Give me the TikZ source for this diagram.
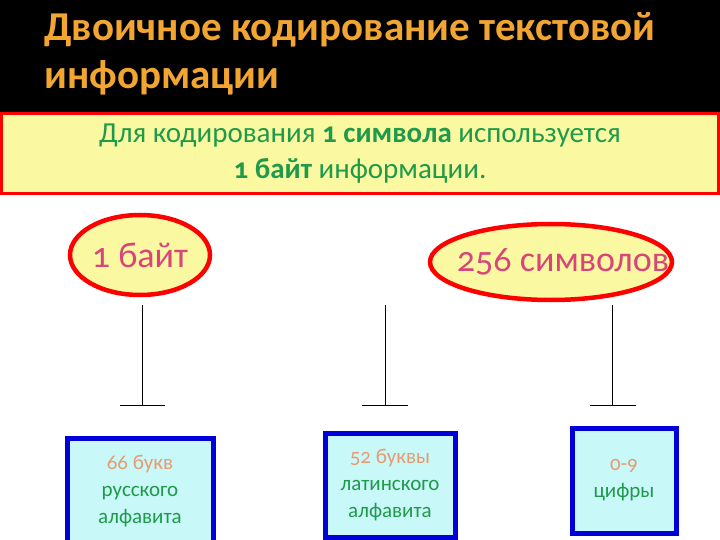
\documentclass[tikz,border=0pt]{standalone}
\usepackage{fontspec}
\setmainfont[Numbers=OldStyle]{Carlito}
\usetikzlibrary{shapes.geometric}
\definecolor{ttl}{HTML}{F2A530}
\definecolor{grn}{HTML}{1E9A4A}
\definecolor{pnk}{HTML}{D8457A}
\definecolor{slm}{HTML}{E89A70}
\definecolor{yel}{HTML}{FAF8A0}
\definecolor{cyn}{HTML}{C8F8F8}
\tikzset{
 ell/.style={ellipse,draw=red,line width=4.5pt,fill=yel,inner sep=0pt},
 elltext/.style={text=pnk,font=\fontsize{36}{40}\selectfont,inner sep=0pt},
 bbox/.style={draw=blue!85!black,line width=5pt,fill=cyn,text=grn,align=center,font=\fontsize{21}{27}\selectfont},
 ln/.style={black,line width=0.7pt}
}
\begin{document}
\begin{tikzpicture}[x=1pt,y=-1pt]
\useasboundingbox (0,0) rectangle (720,540);
\fill[white] (0,0) rectangle (720,540);
\fill[black] (0,0) rectangle (720,112);
\node[anchor=north west,text=ttl,align=left,font=\bfseries\fontsize{41}{48}\selectfont,inner sep=0pt] (title) at (44,12) {Двоичное кодирование текстовой\\информации};
\node[draw=red,line width=3pt,fill=yel,minimum width=717pt,minimum height=80pt,text=grn,align=center,font=\fontsize{29}{36}\selectfont] (info) at (360,154) {Для кодирования \textbf{1 символа} используется\\\textbf{1 байт} информации.};
\node[ell,minimum width=140pt,minimum height=80pt] (e1) at (140,255) {};
\node[elltext] (e1t) at (e1.center) {1 байт};
\node[ell,minimum width=242pt,minimum height=76pt] (e2) at (551,262) {};
\node[elltext] (e2t) at (563,262) {256 символов};
\foreach \n/\x/\a/\b in {1/142/120/165,2/385/362/408,3/612/590/636}{
 \coordinate (t\n) at (\x,305); \coordinate (m\n) at (\x,405);
 \coordinate (l\n) at (\a,405); \coordinate (r\n) at (\b,405);
 \draw[ln] (t\n) -- (m\n); \draw[ln] (l\n) -- (r\n);
}
\node[bbox,minimum width=146pt,minimum height=107pt,anchor=north west] (b1) at (64.5,435.5) {\textcolor{slm}{66 букв}\\русского\\алфавита};
\node[bbox,minimum width=130pt,minimum height=104pt,anchor=north west] (b2) at (322.5,430.5) {\textcolor{slm}{52 буквы}\\латинского\\алфавита};
\node[bbox,minimum width=104pt,minimum height=105pt,anchor=north west] (b3) at (569.5,425.5) {\textcolor{slm}{0-9}\\цифры};
\end{tikzpicture}
\end{document}
